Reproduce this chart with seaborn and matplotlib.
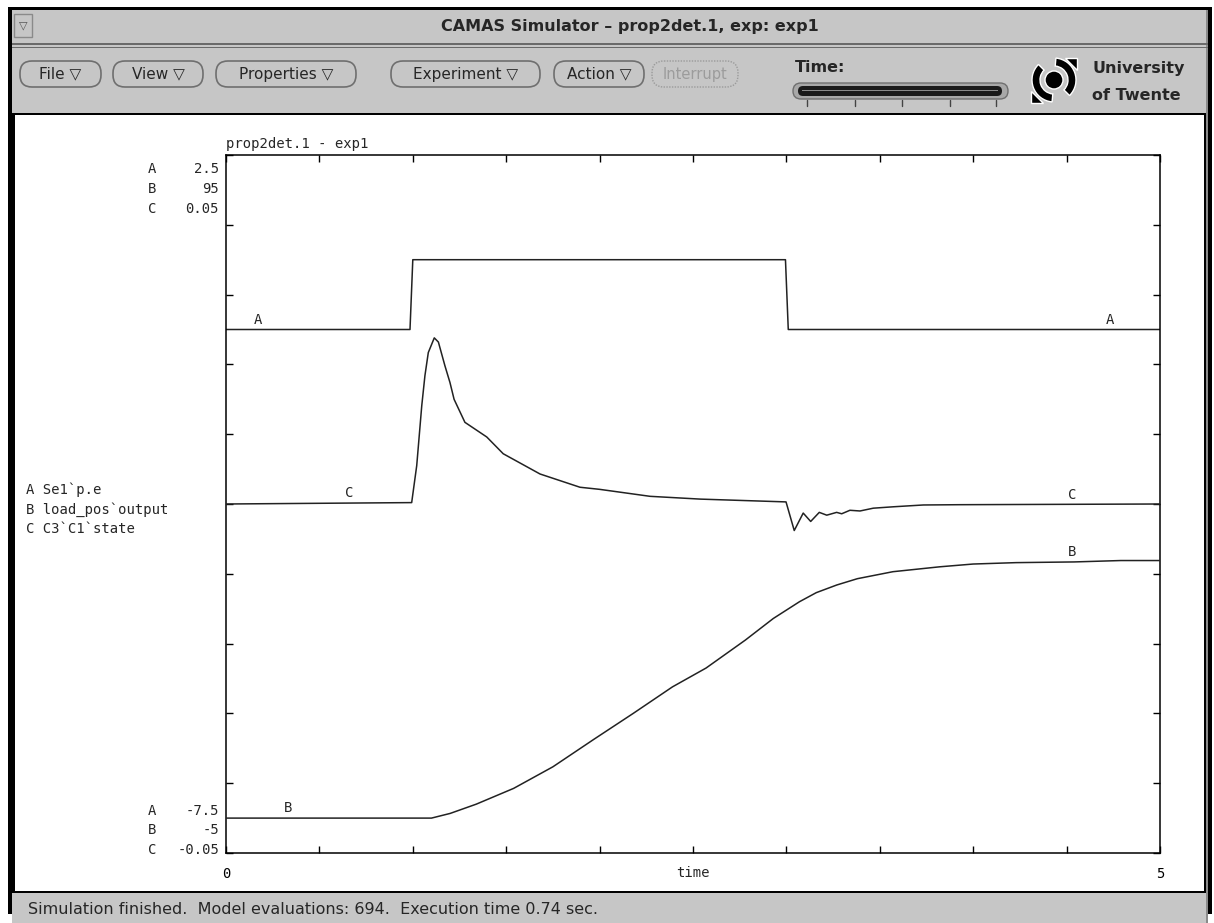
import numpy as np
import seaborn as sns
import matplotlib.pyplot as plt
from matplotlib.patches import Rectangle, FancyBboxPatch, Wedge, Polygon, Circle

# simulation output
time_a = [0.0, 0.985, 1.0, 2.995, 3.01, 5.0]
se1_pe = [0, 0, 1, 1, 0, 0]

time_b = [0.0, 1.10, 1.20, 1.34, 1.54, 1.75, 1.97, 2.18, 2.39, 2.57, 2.78, 2.93,
          3.07, 3.16, 3.27, 3.38, 3.57, 3.82, 4.00, 4.23, 4.54, 4.79, 5.0]
load_pos = [0, 0, 0.67, 2.0, 4.26, 7.35, 11.3, 15.0, 18.8, 21.5, 25.5, 28.6,
            31.0, 32.3, 33.4, 34.3, 35.3, 36.0, 36.4, 36.6, 36.7, 36.9, 36.9]

time_c = [0.0, 0.994, 1.021, 1.048, 1.065, 1.083, 1.115, 1.137, 1.172, 1.199,
          1.221, 1.279, 1.396, 1.484, 1.681, 1.895, 2.0, 2.27, 2.54, 2.998,
          3.042, 3.09, 3.13, 3.176, 3.216, 3.269, 3.296, 3.34, 3.394, 3.465,
          3.572, 3.733, 3.929, 5.0]
c1_state = [0, 0.0002, 0.0055, 0.0141, 0.0184, 0.0217, 0.0238, 0.0232, 0.0198,
            0.0174, 0.0150, 0.0117, 0.0096, 0.0072, 0.0043, 0.0024, 0.0021,
            0.0011, 0.0007, 0.0003, -0.0038, -0.0013, -0.0025, -0.0012,
            -0.0016, -0.0012, -0.0014, -0.0009, -0.0010, -0.0006, -0.0004,
            -0.00014, -0.0001, 0]

letters = ['A', 'B', 'C']
var_names = ["Se1`p.e", "load_pos`output", "C3`C1`state"]
y_top = ['2.5', '95', '0.05']
y_bottom = ['-7.5', '-5', '-0.05']
label_times = {'A': [0.17, 4.73], 'B': [0.33, 4.53], 'C': [0.66, 4.53]}

buttons = ['File', 'View', 'Properties', 'Experiment', 'Action']
button_x = [(20, 101), (113, 203), (216, 356), (391, 540), (554, 644)]

sns.set_style("white")
plt.rcParams['font.family'] = ['DejaVu Sans']
mono = 'DejaVu Sans Mono'
gray = '#c6c6c6'
ink = '#222222'

fig = plt.figure(figsize=(12.14, 9.23), dpi=100)

# window chrome, drawn in pixel units
bg = fig.add_axes([0, 0, 1, 1])
bg.set_xlim(0, 1214)
bg.set_ylim(923, 0)
bg.axis('off')


def box(x0, y0, x1, y1, **kw):
    bg.add_patch(Rectangle((x0, y0), x1 - x0, y1 - y0, **kw))


box(8, 7, 1212, 914, facecolor='black', edgecolor='none')
box(12, 10, 1208, 923, facecolor=gray, edgecolor='none')
box(1206, 10, 1208, 923, facecolor='#8a8a8a', edgecolor='none')
# title bar
box(14, 14, 32, 37, facecolor=gray, edgecolor='#8a8a8a', linewidth=1)
bg.text(23, 25, '▽', ha='center', va='center', fontsize=8, color='#555555')
bg.text(630, 26, 'CAMAS Simulator – prop2det.1, exp: exp1', ha='center',
        va='center', fontsize=11.5, fontweight='bold')
box(12, 43, 1208, 44.5, facecolor='#6a6a6a', edgecolor='none')
box(12, 46.5, 1208, 48, facecolor='#6a6a6a', edgecolor='none')

# toolbar buttons
for name, (x0, x1) in zip(buttons, button_x):
    bg.add_patch(FancyBboxPatch((x0, 61), x1 - x0, 26,
                                boxstyle='round,pad=0,rounding_size=12',
                                facecolor=gray, edgecolor='#6f6f6f', linewidth=1.2))
    bg.text((x0 + x1) / 2, 74, name + ' ▽', ha='center', va='center', fontsize=11)
bg.add_patch(FancyBboxPatch((652, 61), 86, 26, boxstyle='round,pad=0,rounding_size=12',
                            facecolor=gray, edgecolor='#9a9a9a', linewidth=1,
                            linestyle=(0, (1, 1))))
bg.text(695, 74, 'Interrupt', ha='center', va='center', fontsize=10.5, color='#9c9c9c')

bg.text(795, 68, 'Time:', ha='left', va='center', fontsize=11.5, fontweight='bold')
bg.add_patch(FancyBboxPatch((793, 83), 215, 16, boxstyle='round,pad=0,rounding_size=8',
                            facecolor='#a8a8a8', edgecolor='#6f6f6f', linewidth=1))
bg.add_patch(FancyBboxPatch((798, 86), 204, 10, boxstyle='round,pad=0,rounding_size=5',
                            facecolor='#1a1a1a', edgecolor='none'))
box(802, 89.5, 998, 91, facecolor='#8a8a8a', edgecolor='none')
for tx in [807, 855, 902, 950, 996]:
    bg.plot([tx, tx], [100, 106], color='#444444', linewidth=1)

# University of Twente logo (rough)
cx, cy = 1054, 80
bg.add_patch(Wedge((cx, cy), 22, 95, 225, width=8, facecolor='black'))
bg.add_patch(Wedge((cx, cy), 22, 275, 45, width=8, facecolor='black'))
bg.add_patch(Polygon([[1065, 58], [1077, 58], [1077, 70]], facecolor='black'))
bg.add_patch(Polygon([[1031, 91], [1031, 103], [1043, 103]], facecolor='black'))
bg.add_patch(Circle((cx, cy), 9, facecolor='black'))
bg.text(1092, 68, 'University', ha='left', va='center', fontsize=11.5, fontweight='bold')
bg.text(1092, 95, 'of Twente', ha='left', va='center', fontsize=11.5, fontweight='bold')

# canvas
box(12, 113, 1206, 893, facecolor='black', edgecolor='none')
box(15, 115, 1204, 891, facecolor='white', edgecolor='none')
bg.text(28, 909, 'Simulation finished.  Model evaluations: 694.  Execution time 0.74 sec.',
        ha='left', va='center', fontsize=11.5)

# y ranges and variable list
for i, ch in enumerate(letters):
    bg.text(148, 169 + 20 * i, ch, ha='left', va='center', family=mono, fontsize=10)
    bg.text(219, 169 + 20 * i, y_top[i], ha='right', va='center', family=mono, fontsize=10)
    bg.text(148, 811 + 19.3 * i, ch, ha='left', va='center', family=mono, fontsize=10)
    bg.text(219, 811 + 19.3 * i, y_bottom[i], ha='right', va='center', family=mono, fontsize=10)
    bg.text(26, 490 + 19.5 * i, ch + ' ' + var_names[i], ha='left', va='center',
            family=mono, fontsize=10)

# plot
ax = fig.add_axes([226 / 1214, (923 - 853) / 923, 934 / 1214, 698 / 923])
ax.set_facecolor('white')
ax_b = ax.twinx()
ax_c = ax.twinx()

sns.lineplot(x=time_a, y=se1_pe, ax=ax, estimator=None, sort=False,
             color=ink, linewidth=1.1)
sns.lineplot(x=time_b, y=load_pos, ax=ax_b, estimator=None, sort=False,
             color=ink, linewidth=1.1)
sns.lineplot(x=time_c, y=c1_state, ax=ax_c, estimator=None, sort=False,
             color=ink, linewidth=1.1)

ax.set_xlim(0, 5)
ax.set_ylim(-7.5, 2.5)
ax_b.set_ylim(-5, 95)
ax_c.set_ylim(-0.05, 0.05)
ax_b.set_axis_off()
ax_c.set_axis_off()

series = {'A': (ax, time_a, se1_pe), 'B': (ax_b, time_b, load_pos),
          'C': (ax_c, time_c, c1_state)}
for ch, (a, tt, vv) in series.items():
    for t in label_times[ch]:
        a.annotate(ch, (t, np.interp(t, tt, vv)), xytext=(0, 2),
                   textcoords='offset points', ha='center', va='bottom',
                   family=mono, fontsize=10)

ax.set_xticks(np.arange(0, 5.01, 0.5))
ax.set_xticklabels(['0'] + [''] * 9 + ['5'], family=mono, fontsize=10)
ax.set_yticks(np.linspace(-7.5, 2.5, 11))
ax.set_yticklabels([])
ax.tick_params(direction='in', top=True, right=True, left=True, bottom=True,
               length=5, width=1, pad=10, colors='black')
ax.set_xlabel('time', family=mono, fontsize=10)
ax.xaxis.set_label_coords(0.5, -0.019)
ax.set_title('prop2det.1 - exp1', loc='left', family=mono, fontsize=10, pad=5)
for s in ax.spines.values():
    s.set_color('black')
    s.set_linewidth(1.1)

fig.savefig('out.png', dpi=100)
